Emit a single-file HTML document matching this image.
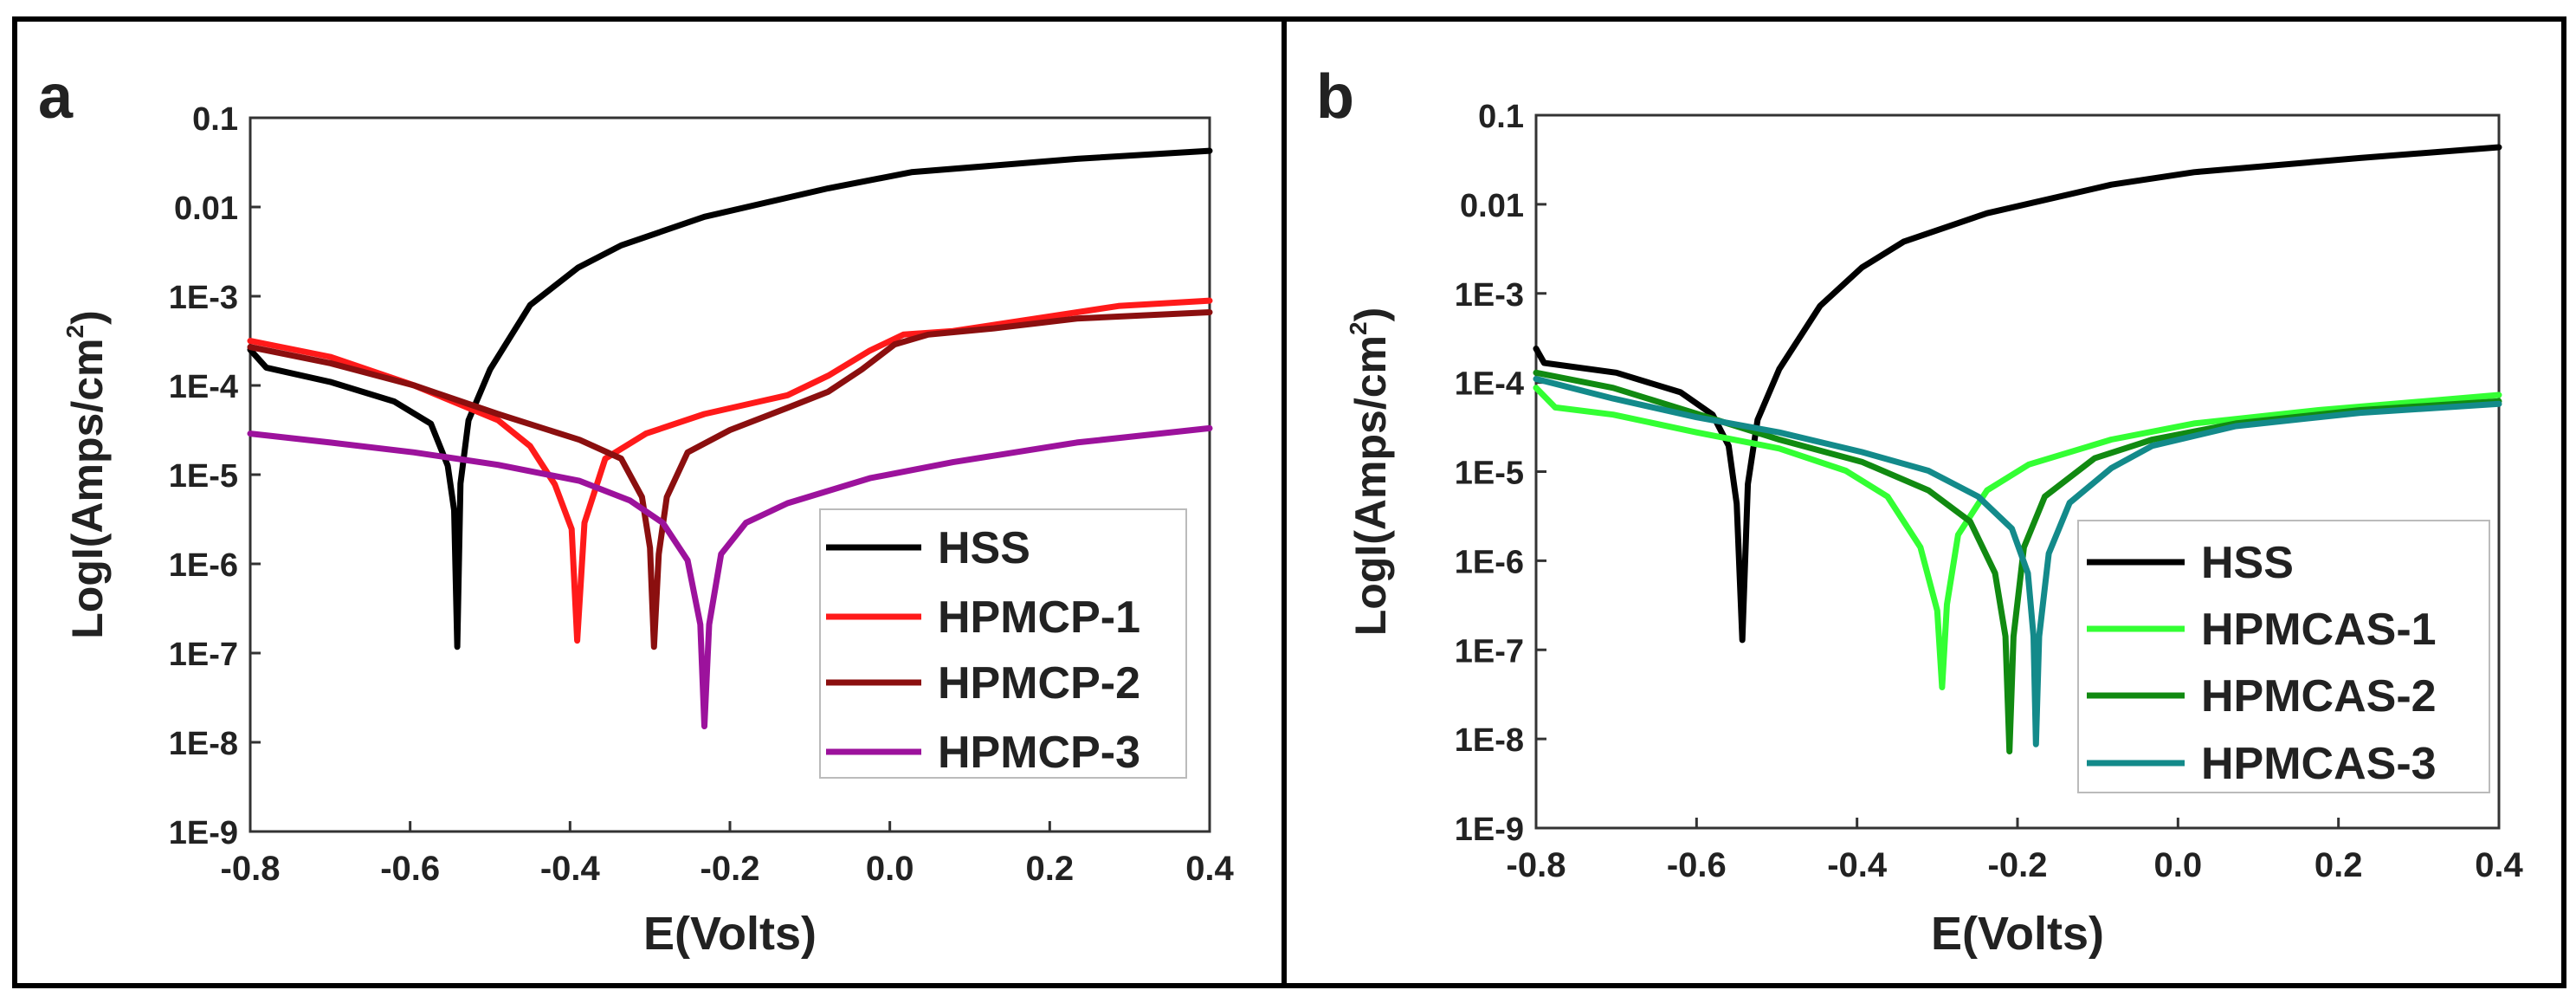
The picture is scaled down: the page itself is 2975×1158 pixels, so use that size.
<!DOCTYPE html>
<html><head><meta charset="utf-8"><style>
html,body{margin:0;padding:0;background:#fff}
svg text{font-family:"Liberation Sans",sans-serif;font-weight:bold;fill:#222}
</style></head><body>
<svg id="fig" width="2975" height="1153" viewBox="0 0 2975 1153" xmlns="http://www.w3.org/2000/svg">
<rect x="0" y="0" width="2975" height="1153" fill="#fff"/>
<rect x="17" y="22" width="1466" height="1116" fill="none" stroke="#000" stroke-width="6"/>
<rect x="1483" y="22" width="1478" height="1116" fill="none" stroke="#000" stroke-width="6"/>
<g id="pa"></g>
<g id="pb"></g>
</svg>
<script>
// Panel a data
const aHSS_E=[-0.8,-0.78,-0.70,-0.62,-0.574,-0.553,-0.545,-0.541,-0.537,-0.527,-0.50,-0.45,-0.39,-0.336,-0.232,-0.077,0.027,0.234,0.4];
const aHSS_L=[-3.6,-3.8,-3.96,-4.18,-4.43,-4.9,-5.4,-6.93,-5.1,-4.39,-3.82,-3.1,-2.68,-2.43,-2.11,-1.79,-1.61,-1.46,-1.37];
const aP1_E=[-0.8,-0.70,-0.595,-0.49,-0.45,-0.419,-0.398,-0.391,-0.382,-0.356,-0.305,-0.232,-0.128,-0.077,-0.025,0.017,0.079,0.182,0.286,0.4];
const aP1_L=[-3.5,-3.68,-4.0,-4.39,-4.68,-5.11,-5.61,-6.86,-5.54,-4.82,-4.54,-4.32,-4.11,-3.89,-3.61,-3.43,-3.39,-3.25,-3.11,-3.05];
const aP2_E=[-0.8,-0.70,-0.595,-0.49,-0.388,-0.336,-0.31,-0.30,-0.295,-0.289,-0.279,-0.253,-0.2,-0.128,-0.077,-0.035,0.006,0.048,0.13,0.234,0.4];
const aP2_L=[-3.57,-3.75,-4.0,-4.32,-4.61,-4.82,-5.25,-5.82,-6.93,-5.89,-5.25,-4.75,-4.5,-4.25,-4.07,-3.82,-3.54,-3.43,-3.36,-3.25,-3.18];
const aP3_E=[-0.8,-0.70,-0.595,-0.49,-0.388,-0.325,-0.284,-0.253,-0.237,-0.232,-0.226,-0.211,-0.18,-0.128,-0.025,0.079,0.234,0.4];
const aP3_L=[-4.54,-4.64,-4.75,-4.89,-5.07,-5.29,-5.54,-5.96,-6.68,-7.82,-6.68,-5.89,-5.54,-5.32,-5.04,-4.86,-4.64,-4.48];
// Panel b data
const bHSS_E=[-0.8,-0.79,-0.70,-0.62,-0.58,-0.56,-0.55,-0.543,-0.536,-0.524,-0.497,-0.446,-0.394,-0.342,-0.238,-0.083,0.02,0.227,0.4];
const bHSS_L=[-3.62,-3.78,-3.89,-4.11,-4.36,-4.71,-5.36,-6.89,-5.14,-4.42,-3.85,-3.14,-2.71,-2.42,-2.1,-1.78,-1.64,-1.48,-1.36];
const bA1_E=[-0.8,-0.776,-0.704,-0.6,-0.497,-0.414,-0.362,-0.321,-0.3,-0.294,-0.288,-0.274,-0.238,-0.186,-0.083,0.02,0.175,0.4];
const bA1_L=[-4.06,-4.28,-4.36,-4.56,-4.74,-4.99,-5.28,-5.85,-6.56,-7.42,-6.49,-5.71,-5.21,-4.92,-4.64,-4.46,-4.31,-4.14];
const bA2_E=[-0.8,-0.704,-0.6,-0.497,-0.394,-0.311,-0.259,-0.228,-0.215,-0.21,-0.205,-0.192,-0.166,-0.104,-0.032,0.072,0.227,0.4];
const bA2_L=[-3.89,-4.06,-4.35,-4.64,-4.89,-5.21,-5.56,-6.14,-6.85,-8.14,-6.85,-5.85,-5.28,-4.85,-4.64,-4.46,-4.31,-4.21];
const bA3_E=[-0.8,-0.704,-0.6,-0.497,-0.394,-0.311,-0.249,-0.207,-0.187,-0.18,-0.177,-0.173,-0.161,-0.135,-0.083,-0.032,0.072,0.227,0.4];
const bA3_L=[-3.96,-4.18,-4.39,-4.56,-4.78,-4.99,-5.28,-5.64,-6.14,-6.85,-8.06,-6.85,-5.92,-5.35,-4.96,-4.71,-4.49,-4.34,-4.24];
const xTicks=[-0.8,-0.6,-0.4,-0.2,0.0,0.2,0.4];
const xTickLabels=["-0.8","-0.6","-0.4","-0.2","0.0","0.2","0.4"];
const yTicks=[-1,-2,-3,-4,-5,-6,-7,-8,-9];
const yTickLabels=["0.1","0.01","1E-3","1E-4","1E-5","1E-6","1E-7","1E-8","1E-9"];
const aNames=["HSS","HPMCP-1","HPMCP-2","HPMCP-3"];
const bNames=["HSS","HPMCAS-1","HPMCAS-2","HPMCAS-3"];

const NS="http://www.w3.org/2000/svg";
function mk(parent,tag,attrs,text){const e=document.createElementNS(NS,tag);for(const k in attrs)e.setAttribute(k,attrs[k]);if(text!==undefined)e.textContent=text;parent.appendChild(e);return e;}

function panel(g,cfg){
  const {L,R,T,B}=cfg;
  const sx=v=>L+(v+0.8)/1.2*(R-L);
  const sy=l=>T+(-1-l)/8*(B-T);
  const frame=mk(g,'rect',{x:L,y:T,width:R-L,height:B-T,fill:'none',stroke:'#333','stroke-width':3});
  
  
  xTicks.forEach((v,i)=>{
    const x=sx(v);
    const t=mk(g,'line',{x1:x,x2:x,y1:B,y2:B-12,stroke:'#333','stroke-width':3});
    
    
    const lb=mk(g,'text',{x:x,y:B+56,'font-size':40,'text-anchor':'middle'},xTickLabels[i]);
    
    
  });
  yTicks.forEach((v,i)=>{
    const y=sy(v);
    const t=mk(g,'line',{x1:L,x2:L+12,y1:y,y2:y,stroke:'#333','stroke-width':3});
    
    
    const lb=mk(g,'text',{x:L-14,y:y+14,'font-size':38,'text-anchor':'end'},yTickLabels[i]);
    
    
  });
  cfg.series.forEach((s,i)=>{
    const d=s.E.map((e,j)=>(j?'L':'M')+sx(e).toFixed(1)+','+sy(s.L[j]).toFixed(1)).join(' ');
    const p=mk(g,'path',{d:d,fill:'none',stroke:s.c,'stroke-width':7,'stroke-linejoin':'round','stroke-linecap':'round'});
    
    
  });
  const lg=mk(g,'g',{});
  
  
  mk(lg,'rect',{x:cfg.lg.x,y:cfg.lg.y,width:cfg.lg.w,height:cfg.lg.h,fill:'#fff',stroke:'#bbb','stroke-width':2});
  cfg.names.forEach((n,i)=>{
    const y=cfg.lg.ys[i];
    const e=mk(lg,'g',{});
    
    
    mk(e,'line',{x1:cfg.lg.lx1,x2:cfg.lg.lx2,y1:y,y2:y,stroke:cfg.series[i].c,'stroke-width':7});
    mk(e,'text',{x:cfg.lg.tx,y:y+18,'font-size':52},n);
  });
  const yt=mk(g,'text',{x:0,y:0,'font-size':50,'text-anchor':'middle',transform:`translate(${cfg.ytx},${(T+B)/2}) rotate(-90)`});
  
  
  yt.innerHTML='LogI(Amps/cm<tspan dy="-22" font-size="28">2</tspan><tspan dy="22">)</tspan>';
  const xt=mk(g,'text',{x:(L+R)/2,y:1096,'font-size':54,'text-anchor':'middle'},'E(Volts)');
  
  
  const pl=mk(g,'text',{x:cfg.plx,y:136,'font-size':72,fill:'#000'},cfg.pl);
  
  
}
panel(document.getElementById('pa'),{L:289,R:1397,T:136,B:960,ytx:118,plx:44,pl:'a',names:aNames,
  series:[{E:aHSS_E,L:aHSS_L,c:'#000'},{E:aP1_E,L:aP1_L,c:'#ff1a1a'},{E:aP2_E,L:aP2_L,c:'#8b0f0f'},{E:aP3_E,L:aP3_L,c:'#9c129c'}],
  lg:{x:947,y:588,w:423,h:310,ys:[632,712,788,868],lx1:954,lx2:1064,tx:1083}});
panel(document.getElementById('pb'),{L:1774,R:2886,T:133,B:956,ytx:1600,plx:1520,pl:'b',names:bNames,
  series:[{E:bHSS_E,L:bHSS_L,c:'#000'},{E:bA1_E,L:bA1_L,c:'#33ff33'},{E:bA2_E,L:bA2_L,c:'#118a11'},{E:bA3_E,L:bA3_L,c:'#138a8a'}],
  lg:{x:2400,y:601,w:475,h:314,ys:[649,726,803,881],lx1:2410,lx2:2523,tx:2542}});
</script>
</body></html>
